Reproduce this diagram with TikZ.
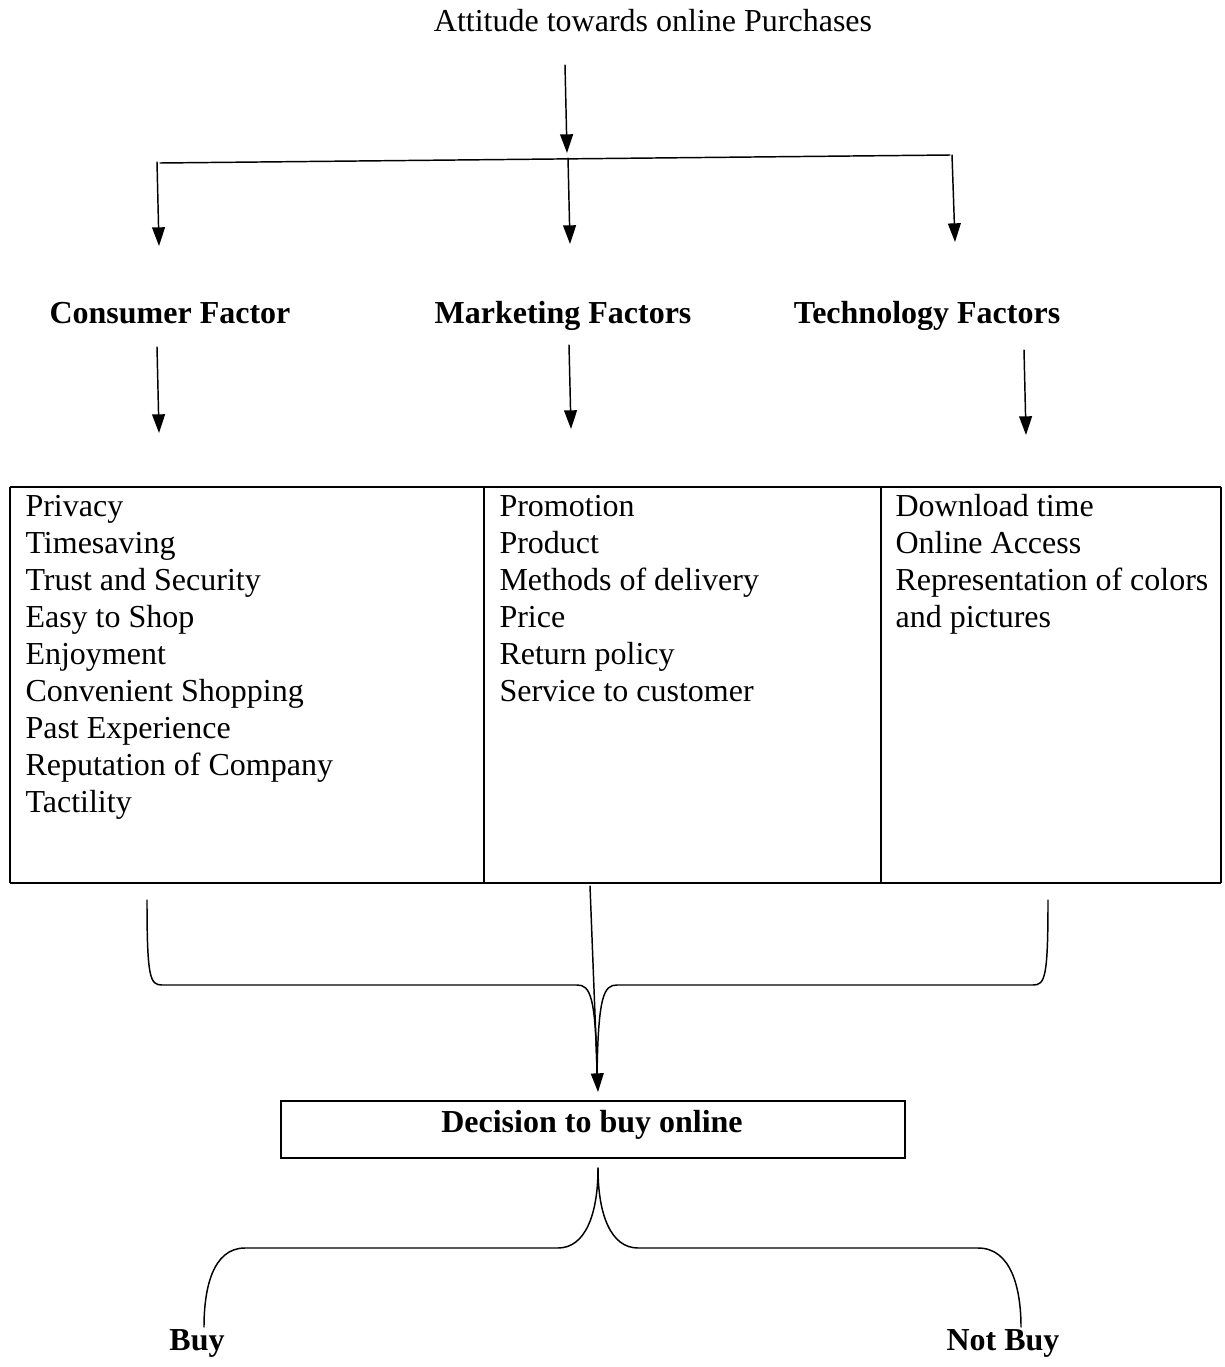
\documentclass[tikz,border=0pt]{standalone}
\usepackage{fontspec}
\setmainfont{Liberation Serif}
\usetikzlibrary{arrows.meta}
\begin{document}
\begin{tikzpicture}[x={(0.375pt,0pt)},y={(0pt,-0.375pt)},
  txt/.style={inner sep=0pt, font=\fontsize{12}{14}\selectfont, anchor=base west},
  hd/.style={inner sep=0pt, font=\fontsize{12}{14}\selectfont\bfseries, anchor=base},
  ln/.style={line width=0.55pt, line cap=round},
  arr/.style={ln, -{Triangle[length=7pt,width=4.8pt]}},
  thick border/.style={line width=0.9pt},
  thin border/.style={line width=0.75pt}]
\useasboundingbox (0,0) rectangle (1224,1367);

% title
\node[hd, font=\fontsize{12}{14}\selectfont] (title) at (653,31) {Attitude towards online Purchases};
\coordinate (t0) at (565,65);
\coordinate (t1) at (567,153);
\draw[arr] (t0) -- (t1);

% distribution bar
\coordinate (hL) at (160,163);
\coordinate (hR) at (950,155);
\draw[ln] (hL) -- (hR);
\coordinate (aL0) at (157,162); \coordinate (aL1) at (159,246);
\coordinate (aM0) at (568,158); \coordinate (aM1) at (570,244);
\coordinate (aR0) at (952,155); \coordinate (aR1) at (955,242);
\draw[arr] (aL0) -- (aL1);
\draw[arr] (aM0) -- (aM1);
\draw[arr] (aR0) -- (aR1);

% headings
\node[hd] (cons) at (170,323) {Consumer Factor};
\node[hd] (mark) at (563,323) {Marketing Factors};
\node[hd] (tech) at (927,323) {Technology Factors};

\coordinate (bL0) at (157,347); \coordinate (bL1) at (159,433);
\coordinate (bM0) at (569,345); \coordinate (bM1) at (571,429);
\coordinate (bR0) at (1024,350); \coordinate (bR1) at (1026,435);
\draw[arr] (bL0) -- (bL1);
\draw[arr] (bM0) -- (bM1);
\draw[arr] (bR0) -- (bR1);

% table
\draw[thick border] (10,487) -- (1221,487);
\draw[thick border] (10,883) -- (1221,883);
\draw[thick border] (10,487) -- (10,883);
\draw[thick border] (1221,487) -- (1221,883);
\draw[thin border] (484,487) -- (484,883);
\draw[thin border] (881,487) -- (881,883);

\foreach \t [count=\i] in {Privacy,Timesaving,Trust and Security,Easy to Shop,Enjoyment,Convenient Shopping,Past Experience,Reputation of Company,Tactility}
  \node[txt] (c\i) at (25,{516+37*(\i-1)}) {\t};
\foreach \t [count=\i] in {Promotion,Product,Methods of delivery,Price,Return policy,Service to customer}
  \node[txt] (m\i) at (499,{516+37*(\i-1)}) {\t};
\foreach \t [count=\i] in {Download time,Online Access,Representation of colors,and pictures}
  \node[txt] (k\i) at (895,{516+37*(\i-1)}) {\t};

% lower brace to decision
\coordinate (sL) at (147,900);
\coordinate (sR) at (1048,900);
\coordinate (sM) at (590,886);
\coordinate (cusp) at (597,1078);
\draw[ln] (sL) .. controls (147,978) and (150,985) .. (162,985) -- (577,985)
  .. controls (590,985) and (596,995) .. (cusp);
\draw[ln] (sR) .. controls (1048,978) and (1045,985) .. (1033,985) -- (617,985)
  .. controls (604,985) and (598,995) .. (cusp);
\coordinate (dTip) at (598,1092);
\draw[arr] (sM) -- (dTip);

% decision box
\node[draw, thick border, minimum width=624*0.375pt, minimum height=57*0.375pt, inner sep=0pt] (dec) at (593,1129.5) {};
\node[hd] (dectext) at (592,1132) {Decision to buy online};

% outcome brace
\coordinate (oTop) at (598,1168);
\coordinate (oL) at (204,1327);
\coordinate (oR) at (1021,1327);
\draw[ln] (oTop) .. controls (598,1215) and (585,1248) .. (558,1248) -- (245,1248)
  .. controls (212,1248) and (204,1290) .. (oL);
\draw[ln] (oTop) .. controls (598,1215) and (611,1248) .. (638,1248) -- (978,1248)
  .. controls (1012,1248) and (1021,1290) .. (oR);

\node[hd] (buy) at (197,1350) {Buy};
\node[hd] (notbuy) at (1003,1350) {Not Buy};
\end{tikzpicture}
\end{document}
